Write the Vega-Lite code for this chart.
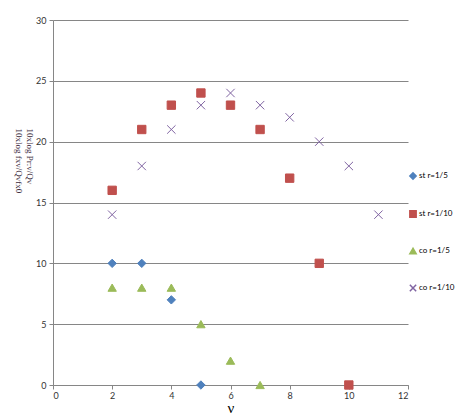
{
  "$schema": "https://vega.github.io/schema/vega-lite/v6.json",
  "autosize": {"type": "none"},
  "width": 355,
  "height": 365,
  "padding": {"left": 53, "top": 20, "right": 57, "bottom": 29},
  "background": "white",
  "config": {
    "view": {"stroke": null},
    "font": "Lato"
  },
  "data": {
    "values": [
      {"series": "st r=1/5", "v": 2, "val": 10},
      {"series": "st r=1/5", "v": 3, "val": 10},
      {"series": "st r=1/5", "v": 4, "val": 7},
      {"series": "st r=1/5", "v": 5, "val": 0},
      {"series": "st r=1/10", "v": 2, "val": 16},
      {"series": "st r=1/10", "v": 3, "val": 21},
      {"series": "st r=1/10", "v": 4, "val": 23},
      {"series": "st r=1/10", "v": 5, "val": 24},
      {"series": "st r=1/10", "v": 6, "val": 23},
      {"series": "st r=1/10", "v": 7, "val": 21},
      {"series": "st r=1/10", "v": 8, "val": 17},
      {"series": "st r=1/10", "v": 9, "val": 10},
      {"series": "st r=1/10", "v": 10, "val": 0},
      {"series": "co r=1/5", "v": 2, "val": 8},
      {"series": "co r=1/5", "v": 3, "val": 8},
      {"series": "co r=1/5", "v": 4, "val": 8},
      {"series": "co r=1/5", "v": 5, "val": 5},
      {"series": "co r=1/5", "v": 6, "val": 2},
      {"series": "co r=1/5", "v": 7, "val": 0},
      {"series": "co r=1/10", "v": 2, "val": 14},
      {"series": "co r=1/10", "v": 3, "val": 18},
      {"series": "co r=1/10", "v": 4, "val": 21},
      {"series": "co r=1/10", "v": 5, "val": 23},
      {"series": "co r=1/10", "v": 6, "val": 24},
      {"series": "co r=1/10", "v": 7, "val": 23},
      {"series": "co r=1/10", "v": 8, "val": 22},
      {"series": "co r=1/10", "v": 9, "val": 20},
      {"series": "co r=1/10", "v": 10, "val": 18},
      {"series": "co r=1/10", "v": 11, "val": 14}
    ]
  },
  "mark": {"type": "point", "filled": true, "opacity": 1, "size": 70, "strokeWidth": 1},
  "encoding": {
    "x": {
      "field": "v", "type": "quantitative",
      "scale": {"domain": [0, 12], "nice": false, "zero": false},
      "axis": {
        "values": [0, 2, 4, 6, 8, 10, 12],
        "grid": false,
        "title": "ν",
        "titleFont": "Liberation Serif",
        "titleFontSize": 15,
        "titleFontWeight": "normal",
        "titleColor": "#000000",
        "titleY": 22,
        "titleBaseline": "middle",
        "domainColor": "#868686",
        "tickColor": "#868686",
        "tickSize": 4,
        "labelFontSize": 9,
        "labelColor": "#333333",
        "labelPadding": 2
      }
    },
    "y": {
      "field": "val", "type": "quantitative",
      "scale": {"domain": [0, 30], "nice": false},
      "axis": {
        "values": [0, 5, 10, 15, 20, 25, 30],
        "grid": true,
        "gridColor": "#868686",
        "domainColor": "#868686",
        "tickColor": "#868686",
        "tickSize": 4,
        "labelFontSize": 9,
        "labelColor": "#333333",
        "labelPadding": 3,
        "title": ["10xlog Pr:v/Qv", "10xlog fxv/Qvfx0"],
        "titleAngle": 90,
        "titleFont": "Liberation Serif",
        "titleFontSize": 9,
        "titleLineHeight": 11,
        "titleFontWeight": "normal",
        "titleColor": "#3a2a3a",
        "titleX": -24,
        "titleY": 108,
        "titleAlign": "left",
        "titleBaseline": "middle"
      }
    },
    "fill": {
      "field": "series", "type": "nominal",
      "scale": {
        "domain": ["st r=1/5", "st r=1/10", "co r=1/5", "co r=1/10"],
        "range": ["#4F81BD", "#C0504D", "#9BBB59", "transparent"]
      },
      "legend": {
        "title": null,
        "orient": "none",
        "legendX": 356,
        "legendY": 152,
        "labelFontSize": 8,
        "labelColor": "#000000",
        "rowPadding": 24,
        "symbolSize": 40,
        "labelOffset": 2
      }
    },
    "stroke": {
      "field": "series", "type": "nominal",
      "scale": {
        "domain": ["st r=1/5", "st r=1/10", "co r=1/5", "co r=1/10"],
        "range": ["#4F81BD", "#C0504D", "#9BBB59", "#8064A2"]
      }
    },
    "shape": {
      "field": "series", "type": "nominal",
      "scale": {
        "domain": ["st r=1/5", "st r=1/10", "co r=1/5", "co r=1/10"],
        "range": ["diamond", "square", "triangle-up", "M-1,-1L1,1M-1,1L1,-1"]
      }
    }
  }
}
